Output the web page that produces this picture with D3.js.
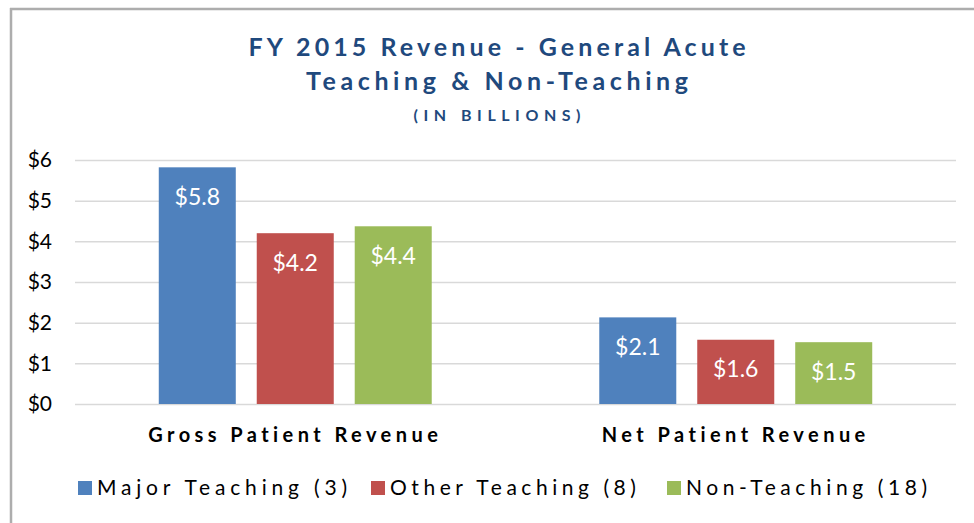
<!DOCTYPE html>
<html lang="en">
<head>
    <meta charset="UTF-8">
    <title>FY 2015 Revenue</title>
    <script src="https://cdn.jsdelivr.net/npm/d3@7/dist/d3.min.js"></script>
    <style>
        body, html {
            margin: 0;
            padding: 0;
            height: 100%;
            overflow: hidden;
            background: #fff;
        }
        svg {
            display: block;
            font-family: Lato, 'Open Sans', sans-serif;
        }
    </style>
</head>
<body>
    <svg id="mainsvg"></svg>
    <script>
        // data
        const categories = ['Gross Patient Revenue', 'Net Patient Revenue'];
        const seriesNames = ['Major Teaching (3)', 'Other Teaching (8)', 'Non-Teaching (18)'];
        const majorTeaching = [5.82, 2.13];
        const otherTeaching = [4.20, 1.58];
        const nonTeaching = [4.37, 1.52];
        const yTicks = [0, 1, 2, 3, 4, 5, 6];

        const seriesValues = [majorTeaching, otherTeaching, nonTeaching];
        const colors = ['#4F81BD', '#C0504D', '#9BBB59'];

        const width = 974, height = 523;
        const svg = d3.select('svg').attr('width', width).attr('height', height);

        // stretch a text to a wanted width with letter-spacing
        function spread(sel, target) {
            sel.each(function(d, i) {
                const t = d3.select(this);
                const want = typeof target === 'function' ? target(d, i) : target;
                const n = this.textContent.length;
                const natural = this.getComputedTextLength();
                const ls = Math.max(0, (want - natural) / Math.max(1, n - 1));
                t.attr('letter-spacing', ls.toFixed(2));
                // letter-spacing also trails the last glyph, pull it back for centred text
                if (t.attr('text-anchor') === 'middle') {
                    t.attr('dx', (ls / 2).toFixed(2));
                }
            });
        }

        // chart frame: only its left and top edges fall inside the window
        svg.append('line')
            .attr('x1', 11).attr('y1', 8).attr('x2', 11).attr('y2', height)
            .attr('stroke', '#ADADAD').attr('stroke-width', 2.5);
        svg.append('line')
            .attr('x1', 10).attr('y1', 9).attr('x2', width).attr('y2', 9)
            .attr('stroke', '#ADADAD').attr('stroke-width', 2.5);

        const margin = { top: 160, left: 75, right: 18, bottom: 119 };
        const innerWidth = width - margin.left - margin.right;
        const innerHeight = height - margin.top - margin.bottom;

        const g = svg.append('g').attr('transform', `translate(${margin.left}, ${margin.top})`);

        const yScale = d3.scaleLinear().domain([0, 6]).range([innerHeight, 0]);
        const x0 = d3.scaleBand().domain(categories).range([0, innerWidth]).padding(0);
        const x1 = d3.scaleBand().domain(seriesNames).range([0, x0.bandwidth()])
            .paddingInner(0.214).paddingOuter(0.855);

        // title
        const titleColor = '#1F497D';
        const cx = 497;
        const titles = [
            { text: 'FY 2015 Revenue - General Acute', y: 56, size: 25, len: 497 },
            { text: 'Teaching & Non-Teaching', y: 90, size: 25, len: 382 },
            { text: '(IN BILLIONS)', y: 121, size: 16, len: 167 }
        ];
        svg.selectAll('.title').data(titles).enter().append('text')
            .attr('class', 'title')
            .attr('x', cx)
            .attr('y', d => d.y)
            .attr('text-anchor', 'middle')
            .attr('font-weight', 'bold')
            .attr('font-size', d => d.size)
            .attr('fill', titleColor)
            .text(d => d.text)
            .call(spread, d => d.len);

        // y axis + gridlines
        const yAxis = d3.axisLeft(yScale)
            .tickValues(yTicks)
            .tickSize(-innerWidth)
            .tickPadding(23)
            .tickFormat(d => '$' + d);
        const yAxisGroup = g.append('g').call(yAxis);
        yAxisGroup.select('.domain').remove();
        yAxisGroup.selectAll('.tick line')
            .attr('stroke', '#D9D9D9')
            .attr('stroke-width', 1.5);
        yAxisGroup.selectAll('.tick text')
            .attr('font-size', 21)
            .attr('font-family', 'Lato, sans-serif')
            .attr('fill', '#000');

        // x axis
        const xAxis = d3.axisBottom(x0).tickSize(0).tickPadding(0);
        const xAxisGroup = g.append('g')
            .attr('transform', `translate(0, ${innerHeight})`)
            .call(xAxis);
        xAxisGroup.select('.domain').remove();
        const catLen = [290, 264];
        xAxisGroup.selectAll('.tick text')
            .attr('y', 38)
            .attr('dy', 0)
            .attr('font-size', 20)
            .attr('font-weight', 'bold')
            .attr('font-family', 'Lato, sans-serif')
            .attr('fill', '#000')
            .call(spread, (d, i) => catLen[i]);

        // bars
        const groups = g.selectAll('.cat').data(categories).enter().append('g')
            .attr('class', 'cat')
            .attr('transform', d => `translate(${x0(d)}, 0)`);

        const cells = (c, ci) => seriesNames.map((s, si) => ({ series: s, si: si, value: seriesValues[si][ci] }));

        groups.selectAll('rect')
            .data(cells)
            .enter().append('rect')
            .attr('x', d => x1(d.series))
            .attr('y', d => yScale(d.value))
            .attr('width', x1.bandwidth())
            .attr('height', d => innerHeight - yScale(d.value))
            .attr('fill', d => colors[d.si]);

        groups.selectAll('.vlabel')
            .data(cells)
            .enter().append('text')
            .attr('class', 'vlabel')
            .attr('x', d => x1(d.series) + x1.bandwidth() / 2)
            .attr('y', d => yScale(d.value) + 37.5)
            .attr('text-anchor', 'middle')
            .attr('font-size', 23)
            .attr('fill', '#fff')
            .text(d => '$' + d3.format('.1f')(d.value));

        // legend
        const legendX = [78, 371, 667];
        const legendLen = [250, 246, 241];
        const legend = svg.selectAll('.legend').data(seriesNames).enter().append('g')
            .attr('class', 'legend')
            .attr('transform', (d, i) => `translate(${legendX[i]}, 481)`);
        legend.append('rect')
            .attr('width', 14).attr('height', 14)
            .attr('fill', (d, i) => colors[i]);
        legend.append('text')
            .attr('x', 19)
            .attr('y', 14)
            .attr('font-size', 21)
            .attr('fill', '#000')
            .text(d => d)
            .call(spread, (d, i) => legendLen[i]);
    </script>
</body>
</html>
